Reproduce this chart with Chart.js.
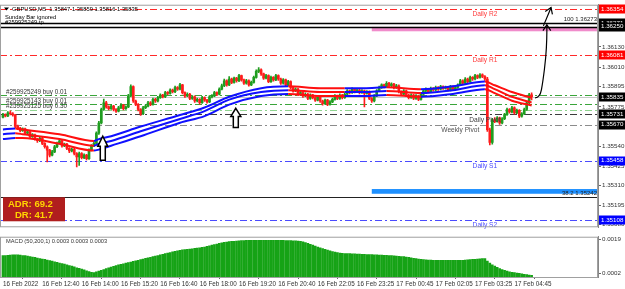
<!DOCTYPE html>
<html><head><meta charset="utf-8">
<script src="https://cdn.jsdelivr.net/npm/chart.js@4.4.1/dist/chart.umd.min.js"></script>
<style>
html,body{margin:0;padding:0;background:#fff;}
#wrap{position:relative;width:625px;height:289px;overflow:hidden;}
#main{position:absolute;left:0;top:0;}
#macd{position:absolute;left:0;top:232px;}
</style></head><body>
<div id="wrap"><canvas id="main" width="625" height="232"></canvas><canvas id="macd" width="625" height="57"></canvas></div>
<script>
// GBPUSD M5 - prices kept as points above 1.35000
const symbol = 'GBPUSD,M5';
const timeIdx = [0,16,32,48,64,80,96,112,128,144,160,176,192,208];
const timeLabels = ['16 Feb 2022','16 Feb 12:40','16 Feb 14:00','16 Feb 15:20','16 Feb 16:40','16 Feb 18:00','16 Feb 19:20','16 Feb 20:40','16 Feb 22:05','16 Feb 23:25','17 Feb 00:45','17 Feb 02:05','17 Feb 03:25','17 Feb 04:45'];

const open = [715,730,722,740,735,728,660,650,635,645, 620,628,600,610,585,575,590,560,540,520,
  490,510,540,560,575,545,555,530,515,525, 500,480,500,475,490,470,520,545,560,620,
  680,760,800,775,765,780,760,750,770,785, 765,775,840,895,810,790,760,735,770,780,
  800,790,820,810,830,845,835,860,855,875, 865,890,880,905,860,840,850,825,835,810,
  820,800,830,815,805,835,840,860,850,880, 900,930,905,940,920,945,930,960,935,915,
  930,905,920,950,985,995,970,945,960,925, 950,935,960,940,915,935,905,925,890,870,
  880,850,860,840,850,825,845,830,815,835, 810,795,815,790,805,820,840,825,845,830,
  850,870,860,880,865,875,860,870,855,865, 825,810,840,870,890,905,895,915,900,910,
  890,900,865,850,870,845,830,845,825,840, 820,850,870,880,865,885,875,890,880,895,
  885,890,875,895,880,890,905,930,915,940, 925,950,940,960,950,965,955,940,640,565,
  700,690,710,680,705,730,760,745,770,740, 755,720,735,760,800,847];
const high = [738,735,748,752,742,732,668,655,652,650, 636,632,618,615,590,598,595,565,545,525,
  518,548,568,585,580,562,560,535,532,530, 505,508,505,498,495,528,552,570,628,690,
  768,822,808,782,790,785,766,778,795,790, 782,850,905,900,815,795,765,778,788,808,
  806,828,826,838,852,850,868,866,882,880, 898,895,915,908,865,858,855,842,840,828,
  825,838,835,820,842,848,868,865,888,910, 940,935,955,945,952,950,968,963,940,938,
  935,928,958,995,1008,1000,975,968,965,958, 955,968,965,945,942,940,932,930,895,888,
  885,868,865,858,855,852,850,835,842,840, 815,822,820,812,828,848,845,852,850,858,
  878,875,888,885,882,880,878,875,872,870, 830,848,878,898,912,910,925,920,918,915,
  908,905,870,878,875,850,852,850,848,845, 858,878,888,885,892,890,898,895,902,900,
  898,895,902,900,898,912,938,935,948,945, 958,955,968,965,972,970,960,950,650,708,
  712,718,715,712,738,768,765,778,775,762, 760,742,768,808,855,859];
const low = [710,716,718,728,720,652,640,628,630,612, 615,592,595,578,565,570,552,532,450,480,
  485,505,535,555,538,540,522,505,510,492, 420,430,468,470,462,465,515,540,555,612,
  675,755,768,758,760,752,742,745,765,758, 760,770,835,802,782,752,725,730,765,775,
  782,786,802,805,825,828,830,848,850,858, 860,872,876,852,832,835,818,820,802,805,
  792,796,808,798,800,828,835,842,846,875, 895,898,900,912,915,922,925,928,908,910,
  898,900,915,945,978,962,938,940,918,920, 928,930,932,908,910,898,900,882,862,865,
  842,845,832,835,818,820,822,808,810,802, 786,790,782,785,800,815,818,820,822,825,
  845,852,855,858,860,852,855,775,850,818, 802,805,835,865,885,888,890,892,895,882,
  885,858,842,845,838,822,825,818,820,812, 815,845,865,858,860,868,870,872,875,878,
  880,868,870,872,875,885,900,908,910,918, 920,932,935,942,945,948,932,630,550,555,
  682,685,672,675,700,725,738,740,732,735, 712,715,730,755,795,816];
const close = [730,722,740,735,728,660,650,635,645,620, 628,600,610,585,575,590,560,540,520,490,
  510,540,560,575,545,555,530,515,525,500, 480,500,475,490,470,520,545,560,620,680,
  760,800,775,765,780,760,750,770,785,765, 775,840,895,810,790,760,735,770,780,800,
  790,820,810,830,845,835,860,855,875,865, 890,880,905,860,840,850,825,835,810,820,
  800,830,815,805,835,840,860,850,880,900, 930,905,940,920,945,930,960,935,915,930,
  905,920,950,985,995,970,945,960,925,950, 935,960,940,915,935,905,925,890,870,880,
  850,860,840,850,825,845,830,815,835,810, 795,815,790,805,820,840,825,845,830,850,
  870,860,880,865,875,860,870,855,865,825, 810,840,870,890,905,895,915,900,910,890,
  900,865,850,870,845,830,845,825,840,820, 850,870,880,865,885,875,890,880,895,885,
  890,875,895,880,890,905,930,915,940,925, 950,940,960,950,965,955,940,640,565,700,
  690,710,680,705,730,760,745,770,740,755, 720,735,760,800,847,835];

// MACD histogram, units of 0.00001
const macd = [108,109,110,111,112,112,112,111,109,108, 106,104,101,99,96,93,91,89,86,83,
  80,77,74,71,68,65,62,58,55,51, 47,44,40,36,31,27,24,23,26,30,
  34,38,42,46,50,54,58,61,64,67, 70,73,76,79,82,85,88,91,94,97,
  100,103,106,109,112,115,118,121,124,127, 130,133,135,137,139,140,141,143,145,146,
  148,150,152,155,158,161,164,167,170,173, 175,177,179,180,181,182,183,184,184,185,
  185,185,185,185,185,185,185,185,185,185, 185,185,185,185,185,184,184,184,183,183,
  182,181,178,174,170,166,161,157,152,148, 144,140,136,132,129,126,123,121,120,119,
  118,118,117,117,116,116,115,115,114,114, 113,112,112,111,111,110,110,109,108,107,
  106,105,104,103,101,99,97,95,93,91, 89,88,87,86,86,85,85,85,85,84,
  84,84,84,84,84,84,84,85,86,87, 88,89,90,91,92,93,93,80,70,62,
  55,49,43,38,34,30,26,24,22,20, 18,16,14,12,10,8];
const macdTicks = [0.0019, 0.0002];

// MA ribbon read at sampled bars
const maIdx = [0,5,8,23,37,39,44,56,72,82,92,105,116,129,139,147,156,170,183,196,200,207,215];
const maHi  = [642,648,642,614,574,585,602,659,727,772,835,886,897,886,886,886,891,880,897,925,903,863,829];
const maMid = [614,619,614,585,546,557,574,631,704,750,818,863,874,863,863,863,869,857,874,903,880,835,801];
const maLo  = [585,591,591,557,517,523,546,602,682,721,789,840,852,840,840,840,846,835,852,880,857,812,784];
const maDown = [[5,37],[116,139],[156,170],[196,215]];

// levels
const priceTicks = [1.36130,1.36010,1.35895,1.35775,1.35540,1.35425,1.35310,1.35195,1.35080];
const pivotNames = ['Daily R2','Daily R1','Daily Pivot','Weekly Pivot','Daily S1','Daily S2'];
const pivotPrices = [1.36354,1.36081,1.35731,1.35670,1.35458,1.35108];
const orderNames = ['#259925249 buy 0.01','#259925143 buy 0.01','#259925125 buy 0.30'];
const orderPrices = [1.35843,1.35790,1.35756];
const tpPrices = [1.36271,1.36250];
const fibNames = ['100','38.2'];
const fibPrices = [1.36273,1.35242];
const pinkZone = [1.36248,1.36222];
const blueZone = [1.35290,1.35262];
const zoneFrom = 150;
const boxPrices = [1.36354,1.36271,1.36250,1.36081,1.35835,1.35731,1.35670,1.35458,1.35108];
const adr = 69.2, dr = 41.7;
const macdParams = '(50,200,1)';
const macdLast = [0.0003,0.0003,0.0003];

// hand drawn arrows (bar index, price)
const arrowAt = [40.6, 94.7], arrowTip = [1.35602, 1.35767], arrowBase = [1.35460, 1.35653];
const curveAt = [216.4,218.4,219.6,220.8,221.2,221.2];
const curveP  = [1.35829,1.35829,1.35925,1.36067,1.36181,1.36260];
const curve2At = [219.8,222.1,222.9];
const curve2P  = [1.36254,1.36334,1.36362];

const FONT = '"Liberation Sans", Arial, sans-serif';
const P = v => 1.35 + v / 1e5;
const X_MIN = -1.2, X_MAX = 242;
const P_MAX = 1.36379, P_MIN = 1.35064;
const UP = '#1f9d1f', DOWN = '#ff1c1c';
const idx = close.map((_, i) => i);
const isDown = i => maDown.some(([a, b]) => i >= a && i < b);
const candleColor = c => close[c.dataIndex] >= open[c.dataIndex] ? UP : DOWN;

const pivotColors = ['#ff2a2a','#ff2a2a','#3c3c3c','#8c8c8c','#4b4bff','#4b4bff'];
const pivotTextColors = ['#ff3b3b','#ff3b3b','#404040','#505050','#4b4bff','#4b4bff'];
const pivotAnchor = [196,196,196,186,196,196];
const orderColors = ['#3aa53a','#3aa53a','#8fd48f'];
const boxColors = ['#ff0000','#000','#000','#ff0000','#000','#000','#000','#0000ff','#0000ff'];
const DASHDOT = [7,3,2,3];

function hline(ctx, a, yy, color, dash, w) {
  yy = Math.round(yy) + 0.5;
  ctx.beginPath();
  ctx.setLineDash(dash);
  ctx.strokeStyle = color;
  ctx.lineWidth = w || 1;
  ctx.moveTo(a.left, yy); ctx.lineTo(a.right, yy);
  ctx.stroke();
  ctx.setLineDash([]);
}

function arrowHead(ctx, x0, y0, x1, y1, len) {
  const ang = Math.atan2(y1 - y0, x1 - x0);
  ctx.beginPath();
  ctx.moveTo(x1 + len * Math.cos(ang + 2.55), y1 + len * Math.sin(ang + 2.55));
  ctx.lineTo(x1, y1);
  ctx.lineTo(x1 + len * Math.cos(ang - 2.55), y1 + len * Math.sin(ang - 2.55));
  ctx.stroke();
}

function polyline(ctx, x, y, at, pr) {
  const pts = at.map((v, k) => [x.getPixelForValue(v), y.getPixelForValue(pr[k])]);
  ctx.beginPath();
  ctx.moveTo(pts[0][0], pts[0][1]);
  for (let k = 1; k < pts.length - 1; k++) {
    const mx = (pts[k][0] + pts[k + 1][0]) / 2, my = (pts[k][1] + pts[k + 1][1]) / 2;
    ctx.quadraticCurveTo(pts[k][0], pts[k][1], mx, my);
  }
  const l = pts[pts.length - 1];
  ctx.lineTo(l[0], l[1]);
  ctx.stroke();
  return pts;
}

const mainDecor = {
  id: 'mainDecor',
  beforeDatasetsDraw(chart) {
    const {ctx, chartArea: a, scales: {x, y}} = chart;
    ctx.save();
    const zx = x.getPixelForValue(zoneFrom);
    ctx.fillStyle = '#f08ccb';
    ctx.fillRect(zx, y.getPixelForValue(pinkZone[0]), a.right - zx, y.getPixelForValue(pinkZone[1]) - y.getPixelForValue(pinkZone[0]));
    ctx.fillStyle = '#1e90ff';
    ctx.fillRect(zx, y.getPixelForValue(blueZone[0]), a.right - zx, y.getPixelForValue(blueZone[1]) - y.getPixelForValue(blueZone[0]));

    pivotPrices.forEach((p, k) => hline(ctx, a, y.getPixelForValue(p), pivotColors[k], DASHDOT));
    orderPrices.forEach((p, k) => hline(ctx, a, y.getPixelForValue(p), orderColors[k], DASHDOT));
    hline(ctx, a, y.getPixelForValue(P(close[close.length - 1])), '#c8c8c8', []);
    tpPrices.forEach(p => hline(ctx, a, y.getPixelForValue(p), '#000', [], 1.3));
    hline(ctx, a, y.getPixelForValue(fibPrices[1]), '#222', []);
    ctx.restore();
  },
  afterDatasetsDraw(chart) {
    const {ctx, chartArea: a, scales: {x, y}} = chart;
    ctx.save();
    // texts
    ctx.textBaseline = 'middle';
    ctx.font = `5.8px ${FONT}`;
    ctx.fillStyle = '#000';
    ctx.beginPath(); ctx.moveTo(a.left + 4, 7.5); ctx.lineTo(a.left + 9, 7.5); ctx.lineTo(a.left + 6.5, 10.5); ctx.fill();
    const n = close.length - 1;
    ctx.fillText(`${symbol}  ${P(open[n]).toFixed(5)} ${P(high[n]).toFixed(5)} ${P(low[n]).toFixed(5)} ${P(close[n]).toFixed(5)}`, a.left + 12, 9);
    ctx.fillText('Sunday Bar ignored', a.left + 5, 17);
    ctx.fillText('#259925249 tp', a.left + 5, 22);

    ctx.font = `6.3px ${FONT}`;
    ctx.fillStyle = '#333';
    ctx.textBaseline = 'bottom';
    orderPrices.forEach((p, k) => ctx.fillText(orderNames[k], a.left + 6, y.getPixelForValue(p) - 0.5));

    ctx.font = `6.6px ${FONT}`;
    ctx.textBaseline = 'middle';
    ctx.textAlign = 'center';
    pivotPrices.forEach((p, k) => {
      ctx.fillStyle = pivotTextColors[k];
      ctx.fillText(pivotNames[k], x.getPixelForValue(pivotAnchor[k]), y.getPixelForValue(p) + 5.5);
    });

    ctx.font = `6px ${FONT}`;
    ctx.textAlign = 'right';
    ctx.textBaseline = 'bottom';
    ctx.fillStyle = '#222';
    fibPrices.forEach((p, k) => ctx.fillText(`${fibNames[k]} ${p.toFixed(5)}`, a.right - 1, y.getPixelForValue(p) - 0.5));

    // ADR box
    ctx.fillStyle = '#b01e1e';
    ctx.fillRect(a.left + 3, a.bottom - 30, 62, 24);
    ctx.fillStyle = '#ffd400';
    ctx.font = `bold 9.5px ${FONT}`;
    ctx.textAlign = 'left';
    ctx.textBaseline = 'middle';
    ctx.fillText(`ADR: ${adr.toFixed(1)}`, a.left + 8, a.bottom - 23);
    ctx.fillText(`DR: ${dr.toFixed(1)}`, a.left + 15, a.bottom - 12);

    // hollow arrows
    ctx.strokeStyle = '#000';
    ctx.lineWidth = 1.5;
    ctx.fillStyle = '#fff';
    arrowAt.forEach((v, k) => {
      const cx = x.getPixelForValue(v), yt = y.getPixelForValue(arrowTip[k]), yb = y.getPixelForValue(arrowBase[k]);
      const hh = (yb - yt) * 0.42;
      ctx.beginPath();
      ctx.moveTo(cx, yt); ctx.lineTo(cx + 5, yt + hh); ctx.lineTo(cx + 2.5, yt + hh);
      ctx.lineTo(cx + 2.5, yb); ctx.lineTo(cx - 2.5, yb); ctx.lineTo(cx - 2.5, yt + hh);
      ctx.lineTo(cx - 5, yt + hh); ctx.closePath();
      ctx.fill(); ctx.stroke();
    });
    // free-hand arrow
    ctx.lineWidth = 1.2;
    let pts = polyline(ctx, x, y, curveAt, curveP);
    let m = pts.length - 1;
    arrowHead(ctx, pts[m - 1][0], pts[m - 1][1], pts[m][0], pts[m][1], 7);
    pts = polyline(ctx, x, y, curve2At, curve2P);
    m = pts.length - 1;
    arrowHead(ctx, pts[m - 1][0], pts[m - 1][1], pts[m][0], pts[m][1], 7);
    ctx.restore();
  },
  afterDraw(chart) {
    const {ctx, chartArea: a, scales: {y}} = chart;
    ctx.save();
    ctx.strokeStyle = '#a0a0a0';
    ctx.lineWidth = 1;
    ctx.strokeRect(a.left + 0.5, a.top + 0.5, a.right - a.left - 1, a.bottom - a.top - 1);
    ctx.font = `6.2px ${FONT}`;
    ctx.textBaseline = 'middle';
    ctx.textAlign = 'left';
    boxPrices.forEach((p, k) => {
      const yy = y.getPixelForValue(p);
      ctx.fillStyle = boxColors[k];
      ctx.fillRect(a.right + 1, Math.round(yy) - 4.5, 26, 9);
      ctx.fillStyle = '#fff';
      ctx.fillText(p.toFixed(5), a.right + 3, yy);
    });
    ctx.restore();
  }
};

function maSet(arr) {
  return {
    type: 'line',
    data: maIdx.map((i, k) => ({x: i, y: P(arr[k])})),
    borderWidth: 2, pointRadius: 0, cubicInterpolationMode: 'monotone',
    borderColor: '#1010ff',
    segment: {borderColor: c => isDown(c.p0.parsed.x) ? '#ff0f0f' : '#1010ff'},
    order: 0
  };
}

new Chart(document.getElementById('main'), {
  type: 'bar',
  data: {datasets: [
    maSet(maHi), maSet(maMid), maSet(maLo),
    {data: idx.map(i => ({x: i, y: [P(low[i]), P(high[i])]})), backgroundColor: candleColor, barThickness: 1, grouped: false, order: 2},
    {data: idx.map(i => ({x: i, y: [P(open[i]), P(close[i])]})), backgroundColor: candleColor, barThickness: 2, minBarLength: 1, grouped: false, order: 1}
  ]},
  options: {
    responsive: false, animation: false, events: [],
    layout: {padding: 0},
    plugins: {legend: {display: false}, tooltip: {enabled: false}},
    scales: {
      x: {type: 'linear', display: false, min: X_MIN, max: X_MAX, offset: false},
      y: {
        position: 'right', min: P_MIN, max: P_MAX,
        afterFit: s => { s.width = 27; },
        afterBuildTicks: s => { s.ticks = priceTicks.map(v => ({value: v})); },
        ticks: {callback: v => v.toFixed(5), font: {family: FONT, size: 6.2}, color: '#333', padding: 1},
        grid: {drawOnChartArea: false, tickLength: 3, color: '#666'},
        border: {color: '#888'}
      }
    }
  },
  plugins: [mainDecor]
});

const macdDecor = {
  id: 'macdDecor',
  afterDraw(chart) {
    const {ctx, chartArea: a} = chart;
    ctx.save();
    ctx.strokeStyle = '#a0a0a0';
    ctx.strokeRect(a.left + 0.5, a.top + 0.5, a.right - a.left - 1, a.bottom - a.top);
    ctx.font = `5.7px ${FONT}`;
    ctx.fillStyle = '#333';
    ctx.textBaseline = 'middle';
    ctx.fillText(`MACD ${macdParams} ${macdLast.map(v => v.toFixed(4)).join(' ')}`, a.left + 6, a.top + 5);
    ctx.restore();
  }
};

new Chart(document.getElementById('macd'), {
  type: 'bar',
  data: {datasets: [{data: idx.map(i => ({x: i, y: macd[i] / 1e5})), backgroundColor: '#16a316', barThickness: 2}]},
  options: {
    responsive: false, animation: false, events: [],
    layout: {padding: {top: 1}},
    plugins: {legend: {display: false}, tooltip: {enabled: false}},
    scales: {
      x: {
        type: 'linear', min: X_MIN, max: X_MAX, offset: false,
        afterFit: s => { s.height = 12; },
        afterBuildTicks: s => { s.ticks = timeIdx.map(v => ({value: v})); },
        ticks: {callback: v => timeLabels[timeIdx.indexOf(v)], align: 'start', maxRotation: 0, autoSkip: false, font: {family: FONT, size: 6.3}, color: '#333', padding: 1},
        grid: {drawOnChartArea: false, tickLength: 2, color: '#666'},
        border: {color: '#888'}
      },
      y: {
        position: 'right', min: 0, max: 0.002039,
        afterFit: s => { s.width = 27; },
        afterBuildTicks: s => { s.ticks = macdTicks.map(v => ({value: v})); },
        ticks: {callback: v => v.toFixed(4), font: {family: FONT, size: 6.2}, color: '#333', padding: 1},
        grid: {drawOnChartArea: false, tickLength: 3, color: '#666'},
        border: {color: '#888'}
      }
    }
  },
  plugins: [macdDecor]
});
</script>
</body></html>
